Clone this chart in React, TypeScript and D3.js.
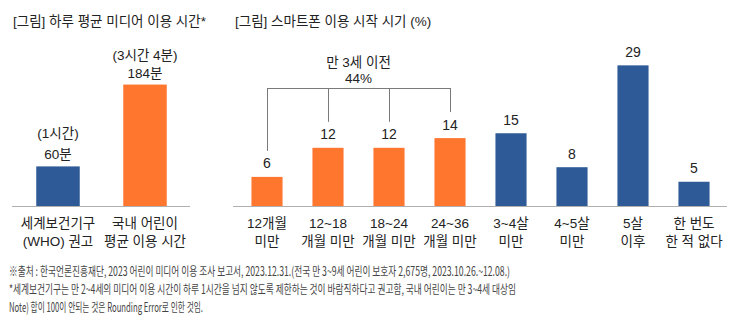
import React from "react";
import * as d3 from "d3";

const leftTitle = "[그림] 하루 평균 미디어 이용 시간*";
const leftCats = ["WHO", "KR"];
const leftValues = [60, 184];
const leftTop = ["(1시간)", "(3시간 4분)"];
const leftValueText = ["60분", "184분"];
const leftCatLines = [["세계보건기구", "(WHO) 권고"], ["국내 어린이", "평균 이용 시간"]];
const leftColors = ["#2E5B98", "#FF762F"];

const rightTitle = "[그림] 스마트폰 이용 시작 시기 (%)";
const rightCats = ["c1", "c2", "c3", "c4", "c5", "c6", "c7", "c8"];
const rightValues = [6, 12, 12, 14, 15, 8, 29, 5];
const rightCatLines = [
  ["12개월", "미만"],
  ["12~18", "개월 미만"],
  ["18~24", "개월 미만"],
  ["24~36", "개월 미만"],
  ["3~4살", "미만"],
  ["4~5살", "미만"],
  ["5살", "이후"],
  ["한 번도", "한 적 없다"],
];
const rightGroup = [true, true, true, true, false, false, false, false];
const bracketLabel = ["만 3세 이전", "44%"];

const footnotes = [
  "※출처 : 한국언론진흥재단, 2023 어린이 미디어 이용 조사 보고서, 2023.12.31.(전국 만 3~9세 어린이 보호자 2,675명, 2023.10.26.~12.08.)",
  "*세계보건기구는 만 2~4세의 미디어 이용 시간이 하루 1시간을 넘지 않도록 제한하는 것이 바람직하다고 권고함, 국내 어린이는 만 3~4세 대상임",
  "Note) 합이 100이 안되는 것은 Rounding Error로 인한 것임.",
];

const ORANGE = "#FF762F";
const BLUE = "#2E5B98";
const FONT = "'Liberation Sans', 'Noto Sans CJK KR', sans-serif";
const TXT = "#222";

export default function App() {
  const W = 740, H = 323;
  const base = 206;

  const xL = d3.scaleBand<string>().domain(leftCats).range([14.5, 188.5]).paddingInner(0.5).paddingOuter(0.25);
  const yL = d3.scaleLinear().domain([0, 200]).range([base, 74]);

  const xR = d3.scaleBand<string>().domain(rightCats).range([236.5, 724.5]).paddingInner(0.49).paddingOuter(0.245);
  const yR = d3.scaleLinear().domain([0, 30]).range([base, base - 145.5]);

  const groupIdx = rightGroup.map((g, i) => (g ? i : -1)).filter((i) => i >= 0);
  const cx = (i: number) => (xR(rightCats[i]) as number) + xR.bandwidth() / 2;
  const bx0 = cx(groupIdx[0]);
  const bx1 = cx(groupIdx[groupIdx.length - 1]);
  const bracketY = 88;
  const FS = 13.5;

  return (
    <svg width={W} height={H} style={{ position: "absolute", left: 0, top: 0, background: "#fff" }} fontFamily={FONT}>
      <rect x={0} y={0} width={W} height={H} fill="#fff" />
      <text x={13} y={26} fontSize={13.5} fill={TXT}>{leftTitle}</text>
      <text x={235} y={26} fontSize={13.5} fill={TXT}>{rightTitle}</text>

      {/* left chart */}
      {leftCats.map((c, i) => {
        const x = xL(c) as number;
        const w = xL.bandwidth();
        const top = yL(leftValues[i]);
        const mid = x + w / 2;
        return (
          <g key={c}>
            <rect x={x} y={top} width={w} height={base - top} fill={leftColors[i]} />
            <text x={mid} y={top - 7} textAnchor="middle" fontSize={FS} fill={TXT}>{leftValueText[i]}</text>
            <text x={mid} y={top - (i === 0 ? 28 : 25)} textAnchor="middle" fontSize={FS} fill={TXT}>{leftTop[i]}</text>
            {leftCatLines[i].map((t, j) => (
              <text key={j} x={mid} y={228 + j * 18} textAnchor="middle" fontSize={FS} fill={TXT}>{t}</text>
            ))}
          </g>
        );
      })}
      <line x1={12} x2={190} y1={base + 0.5} y2={base + 0.5} stroke="#B0B0B0" strokeWidth={1} />

      {/* right chart */}
      {rightCats.map((c, i) => {
        const x = xR(c) as number;
        const w = xR.bandwidth();
        const top = yR(rightValues[i]);
        const mid = x + w / 2;
        return (
          <g key={c}>
            <rect x={x} y={top} width={w} height={base - top} fill={rightGroup[i] ? ORANGE : BLUE} />
            <text x={mid} y={top - 8.5} textAnchor="middle" fontSize={14} fill={TXT}>{rightValues[i]}</text>
            {rightCatLines[i].map((t, j) => (
              <text key={j} x={mid} y={228 + j * 18} textAnchor="middle" fontSize={FS} fill={TXT}>{t}</text>
            ))}
          </g>
        );
      })}
      <line x1={233} x2={727} y1={base + 0.5} y2={base + 0.5} stroke="#B0B0B0" strokeWidth={1} />

      {/* bracket */}
      <g stroke="#7A7A7A" strokeWidth={1} fill="none">
        <line x1={bx0} x2={bx1} y1={bracketY + 0.5} y2={bracketY + 0.5} />
        {groupIdx.map((i) => (
          <line key={i} x1={Math.round(cx(i)) + 0.5} x2={Math.round(cx(i)) + 0.5} y1={bracketY} y2={yR(rightValues[i]) - 26} />
        ))}
      </g>
      <text x={(bx0 + bx1) / 2} y={67} textAnchor="middle" fontSize={FS} fill={TXT}>{bracketLabel[0]}</text>
      <text x={(bx0 + bx1) / 2} y={83} textAnchor="middle" fontSize={FS} fill={TXT}>{bracketLabel[1]}</text>

      {/* footnotes */}
      {footnotes.map((t, i) => (
        <text key={i} x={9} y={275.5 + i * 18} fontSize={12.5} fill="#444"
          fontFamily="'Noto Sans CJK KR', sans-serif"
          textLength={[501, 507, 194][i]} lengthAdjust="spacingAndGlyphs">{t}</text>
      ))}
    </svg>
  );
}
